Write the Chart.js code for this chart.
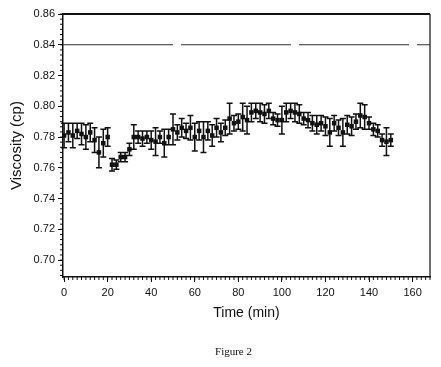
<!DOCTYPE html>
<html>
<head>
<meta charset="utf-8">
<script src="https://cdn.jsdelivr.net/npm/chart.js@4"></script>
<style>
body { margin: 0; background: #fff; }
canvas { display: block; }
</style>
</head>
<body>
<canvas id="viscosityCanvas" width="441" height="367"></canvas>
<script>
const times = [0, 2, 4, 6, 8, 10, 12, 14, 16, 18, 20, 22, 24, 26, 28, 30, 32, 34, 36, 38,
    40, 42, 44, 46, 48, 50, 52, 54, 56, 58, 60, 62, 64, 66, 68, 70, 72, 74, 76, 78,
    80, 82, 84, 86, 88, 90, 92, 94, 96, 98, 100, 102, 104, 106, 108, 110, 112, 114, 116, 118,
    120, 122, 124, 126, 128, 130, 132, 134, 136, 138, 140, 142, 144, 146, 148, 150];
const viscosity = [0.781, 0.783, 0.781, 0.784, 0.782, 0.780, 0.783, 0.778, 0.770, 0.776, 0.780, 0.762, 0.762, 0.767, 0.767, 0.772, 0.780, 0.780, 0.779, 0.780,
    0.778, 0.777, 0.780, 0.776, 0.780, 0.785, 0.783, 0.786, 0.784, 0.786, 0.780, 0.784, 0.780, 0.784, 0.781, 0.786, 0.783, 0.786, 0.792, 0.789,
    0.790, 0.793, 0.791, 0.796, 0.797, 0.796, 0.795, 0.797, 0.792, 0.791, 0.791, 0.796, 0.797, 0.796, 0.795, 0.792, 0.791, 0.789, 0.788, 0.789,
    0.787, 0.783, 0.789, 0.786, 0.783, 0.788, 0.787, 0.790, 0.794, 0.793, 0.789, 0.785, 0.784, 0.778, 0.777, 0.778];
const errors = [0.008, 0.006, 0.008, 0.005, 0.007, 0.008, 0.006, 0.008, 0.010, 0.009, 0.006, 0.004, 0.003, 0.003, 0.003, 0.004, 0.008, 0.004, 0.005, 0.004,
    0.006, 0.009, 0.004, 0.009, 0.005, 0.010, 0.005, 0.006, 0.005, 0.008, 0.009, 0.006, 0.010, 0.006, 0.007, 0.006, 0.006, 0.005, 0.010, 0.005,
    0.005, 0.009, 0.009, 0.006, 0.005, 0.006, 0.006, 0.005, 0.004, 0.004, 0.009, 0.006, 0.005, 0.006, 0.006, 0.004, 0.005, 0.005, 0.006, 0.005,
    0.006, 0.009, 0.005, 0.005, 0.009, 0.006, 0.006, 0.005, 0.008, 0.008, 0.004, 0.004, 0.004, 0.004, 0.009, 0.004];
const referenceLevel = 0.84;
const xLimits = [-0.5, 168];
const yLimits = [0.689, 0.86];
const xTicks = [0, 20, 40, 60, 80, 100, 120, 140, 160];
const yTicks = [0.70, 0.72, 0.74, 0.76, 0.78, 0.80, 0.82, 0.84, 0.86];

const ink = '#111';
const tickFont = { family: 'Liberation Sans, Arial, sans-serif', size: 11 };

// vertical error bars with caps, placed through the chart scales
const errorBars = {
    id: 'errorBars',
    beforeDatasetsDraw(chart) {
        const { ctx, scales: { x, y } } = chart;
        ctx.save();
        ctx.strokeStyle = ink;
        ctx.lineWidth = 1.5;
        ctx.beginPath();
        times.forEach((t, i) => {
            const px = x.getPixelForValue(t);
            const top = y.getPixelForValue(viscosity[i] + errors[i]);
            const bottom = y.getPixelForValue(viscosity[i] - errors[i]);
            ctx.moveTo(px, top);
            ctx.lineTo(px, bottom);
            ctx.moveTo(px - 3, top);
            ctx.lineTo(px + 3, top);
            ctx.moveTo(px - 3, bottom);
            ctx.lineTo(px + 3, bottom);
        });
        ctx.stroke();
        ctx.restore();
    }
};

// minor ticks, top/right frame and the caption
const frame = {
    id: 'frame',
    afterDraw(chart) {
        const { ctx, chartArea: a, scales: { x, y } } = chart;
        ctx.save();
        ctx.strokeStyle = ink;
        ctx.lineWidth = 1;
        ctx.beginPath();
        for (let t = 0; t <= xLimits[1]; t += 2) {
            const px = x.getPixelForValue(t);
            ctx.moveTo(px, a.bottom);
            ctx.lineTo(px, a.bottom + 3);
        }
        for (let k = -3; k <= 48; k++) {
            const v = 0.70 + k * 0.02 / 6;
            if (v < yLimits[0] || v > yLimits[1] + 1e-9) continue;
            const py = y.getPixelForValue(v);
            ctx.moveTo(a.left - 3, py);
            ctx.lineTo(a.left, py);
        }
        ctx.stroke();

        ctx.lineWidth = 2;
        ctx.beginPath();
        ctx.moveTo(a.left, a.top);
        ctx.lineTo(a.right, a.top);
        ctx.stroke();
        ctx.lineWidth = 1.2;
        ctx.beginPath();
        ctx.moveTo(a.right, a.top);
        ctx.lineTo(a.right, a.bottom);
        ctx.stroke();

        ctx.fillStyle = ink;
        ctx.font = '11px "Liberation Serif", "Times New Roman", serif';
        ctx.textAlign = 'center';
        ctx.textBaseline = 'middle';
        ctx.fillText('Figure 2', (a.left + a.right) / 2 - 13, 352);
        ctx.restore();
    }
};

const ctxVisc = document.getElementById('viscosityCanvas').getContext('2d');
const viscChart = new Chart(ctxVisc, {
    type: 'scatter',
    data: {
        datasets: [{
            label: 'Viscosity',
            data: times.map((t, i) => ({ x: t, y: viscosity[i] })),
            pointStyle: 'rect',
            pointRadius: 3.2,
            backgroundColor: ink,
            borderWidth: 0
        }, {
            type: 'line',
            label: 'Reference',
            data: [{ x: xLimits[0], y: referenceLevel }, { x: xLimits[1], y: referenceLevel }],
            borderColor: '#333',
            borderWidth: 1,
            borderDash: [110, 8],
            pointRadius: 0
        }]
    },
    options: {
        responsive: false,
        animation: false,
        devicePixelRatio: 1,
        layout: { padding: { top: 14, right: 11, left: 0, bottom: 0 } },
        plugins: {
            legend: { display: false },
            tooltip: { enabled: false }
        },
        scales: {
            x: {
                type: 'linear',
                min: xLimits[0],
                max: xLimits[1],
                afterBuildTicks: s => { s.ticks = xTicks.map(v => ({ value: v })); },
                afterFit: s => { s.height = 90; },
                ticks: { font: tickFont, color: ink, padding: 4, maxRotation: 0, callback: v => v },
                grid: { drawOnChartArea: false, tickLength: 5, color: ink },
                border: { color: ink, width: 1.5 },
                title: {
                    display: true,
                    text: 'Time (min)',
                    color: ink,
                    font: { family: 'Liberation Sans, Arial, sans-serif', size: 14 },
                    padding: { top: 4, bottom: 45 }
                }
            },
            y: {
                min: yLimits[0],
                max: yLimits[1],
                afterBuildTicks: s => { s.ticks = yTicks.map(v => ({ value: v })); },
                afterFit: s => { s.width = 63; },
                ticks: { font: tickFont, color: ink, padding: 3, callback: v => v.toFixed(2) },
                grid: { drawOnChartArea: false, tickLength: 5, color: ink },
                border: { color: ink, width: 1.5 },
                title: {
                    display: true,
                    text: 'Viscosity (cp)',
                    color: ink,
                    font: { family: 'Liberation Sans, Arial, sans-serif', size: 15 },
                    padding: { top: 8, bottom: 0 }
                }
            }
        }
    },
    plugins: [errorBars, frame]
});
</script>
</body>
</html>
